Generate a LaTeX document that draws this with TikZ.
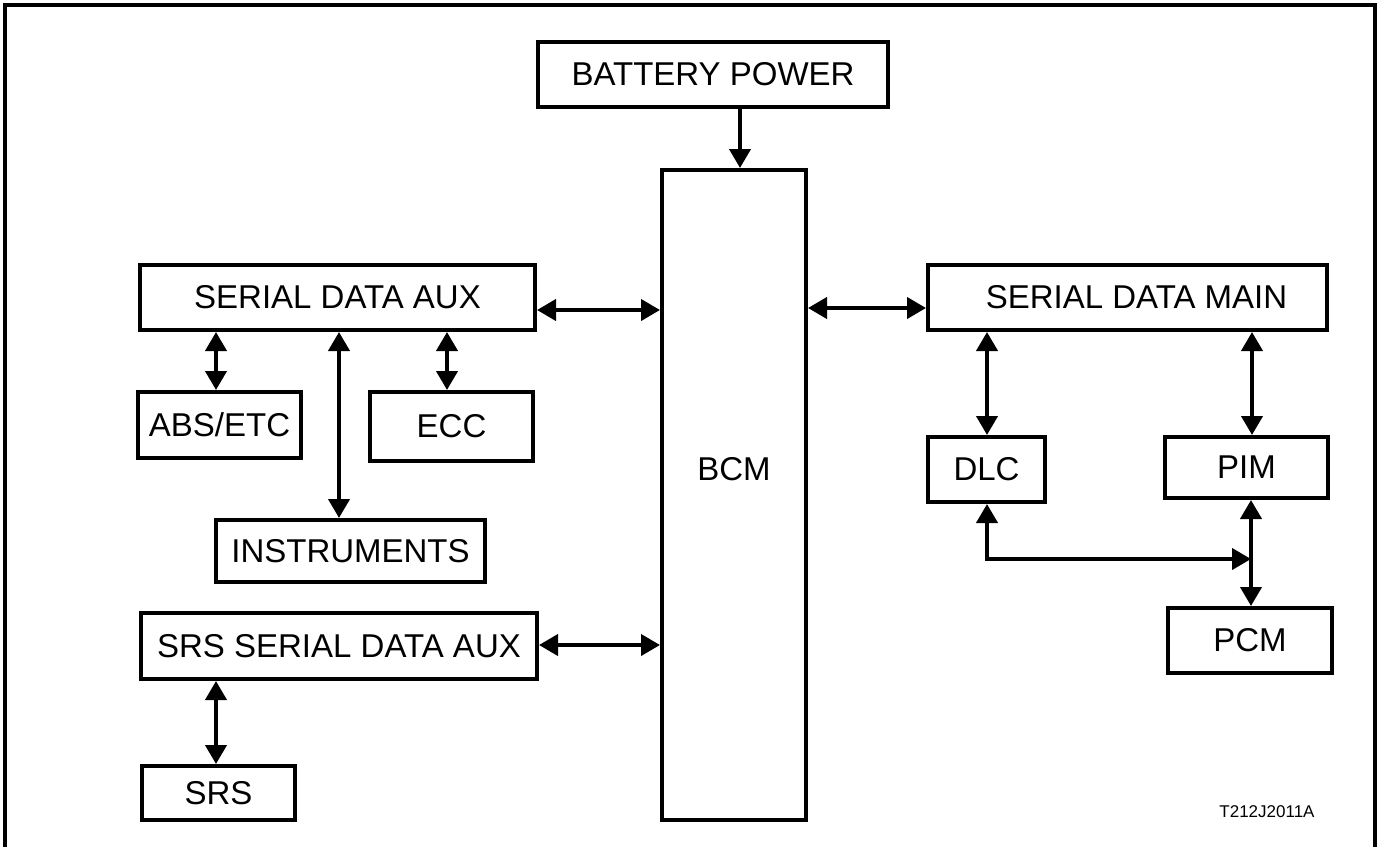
\documentclass[tikz,border=0pt]{standalone}
\usepackage{fontspec}
\setmainfont{Liberation Sans}
\usetikzlibrary{arrows.meta}
\begin{document}
\begin{tikzpicture}[x=1pt,y=-1pt,
  box/.style={draw=black,line width=4pt,inner sep=0pt,font=\fontsize{33}{36}\selectfont},
  link/.style={line width=4pt,{Triangle[length=19pt,width=21pt]}-{Triangle[length=19pt,width=21pt]}},
  onelink/.style={line width=4pt,-{Triangle[length=19pt,width=21pt]}},
  codetext/.style={font=\fontsize{17}{19}\selectfont}]
\useasboundingbox (0,0) rectangle (1380,846);
\fill[white] (0,0) rectangle (1380,846);
\begin{scope}
\clip (0,0) rectangle (1380,846);
\draw[line width=3.5pt] (5,860) -- (5,5) -- (1375,5) -- (1375,860);
\end{scope}
% boxes
\node[box,minimum width=350pt,minimum height=65pt] (bat) at (713,74.5) {BATTERY POWER};
\node[box,minimum width=144pt,minimum height=650pt,label={[box,draw=none,yshift=26pt]center:BCM}] (bcm) at (734,495) {};
\node[box,minimum width=395pt,minimum height=65pt] (sda) at (337.5,297.5) {SERIAL DATA AUX};
\node[box,minimum width=163pt,minimum height=66pt] (abs) at (219.5,425) {ABS/ETC};
\node[box,minimum width=163pt,minimum height=69pt] (ecc) at (451.5,426.5) {ECC};
\node[box,minimum width=269pt,minimum height=62pt] (ins) at (350.5,551) {INSTRUMENTS};
\node[box,minimum width=396pt,minimum height=66pt] (ssda) at (339,646) {SRS SERIAL DATA AUX};
\node[box,minimum width=153pt,minimum height=54pt] (srs) at (218.5,793) {SRS};
\node[box,minimum width=399pt,minimum height=65pt] (sdm) at (1127.5,297.5) {\hspace*{18pt}SERIAL DATA MAIN};
\node[box,minimum width=117pt,minimum height=65pt] (dlc) at (986.5,469.5) {DLC};
\node[box,minimum width=163pt,minimum height=61pt] (pim) at (1246.5,467.5) {PIM};
\node[box,minimum width=164pt,minimum height=65pt] (pcm) at (1250,640.5) {PCM};
\node[codetext] (code) at (1267,812) {T212J2011A};
% connectors
\draw[onelink] (bat.south -| 740,0) -- (bcm.north -| 740,0);
\draw[link] (sda.east |- 0,310) -- (bcm.west |- 0,310);
\draw[link] (bcm.east |- 0,308) -- (sdm.west |- 0,308);
\draw[link] (sda.south -| 216,0) -- (abs.north -| 216,0);
\draw[link] (sda.south -| 339,0) -- (ins.north -| 339,0);
\draw[link] (sda.south -| 447,0) -- (ecc.north -| 447,0);
\draw[link] (ssda.east |- 0,645) -- (bcm.west |- 0,645);
\draw[link] (ssda.south -| 216,0) -- (srs.north -| 216,0);
\draw[link] (sdm.south -| 987,0) -- (dlc.north -| 987,0);
\draw[link] (sdm.south -| 1252,0) -- (pim.north -| 1252,0);
\draw[link] (pim.south -| 1251,0) -- (pcm.north -| 1251,0);
\coordinate (jn) at (1251,559);
\draw[link] (dlc.south -| 987,0) |- (jn);
\end{tikzpicture}
\end{document}
